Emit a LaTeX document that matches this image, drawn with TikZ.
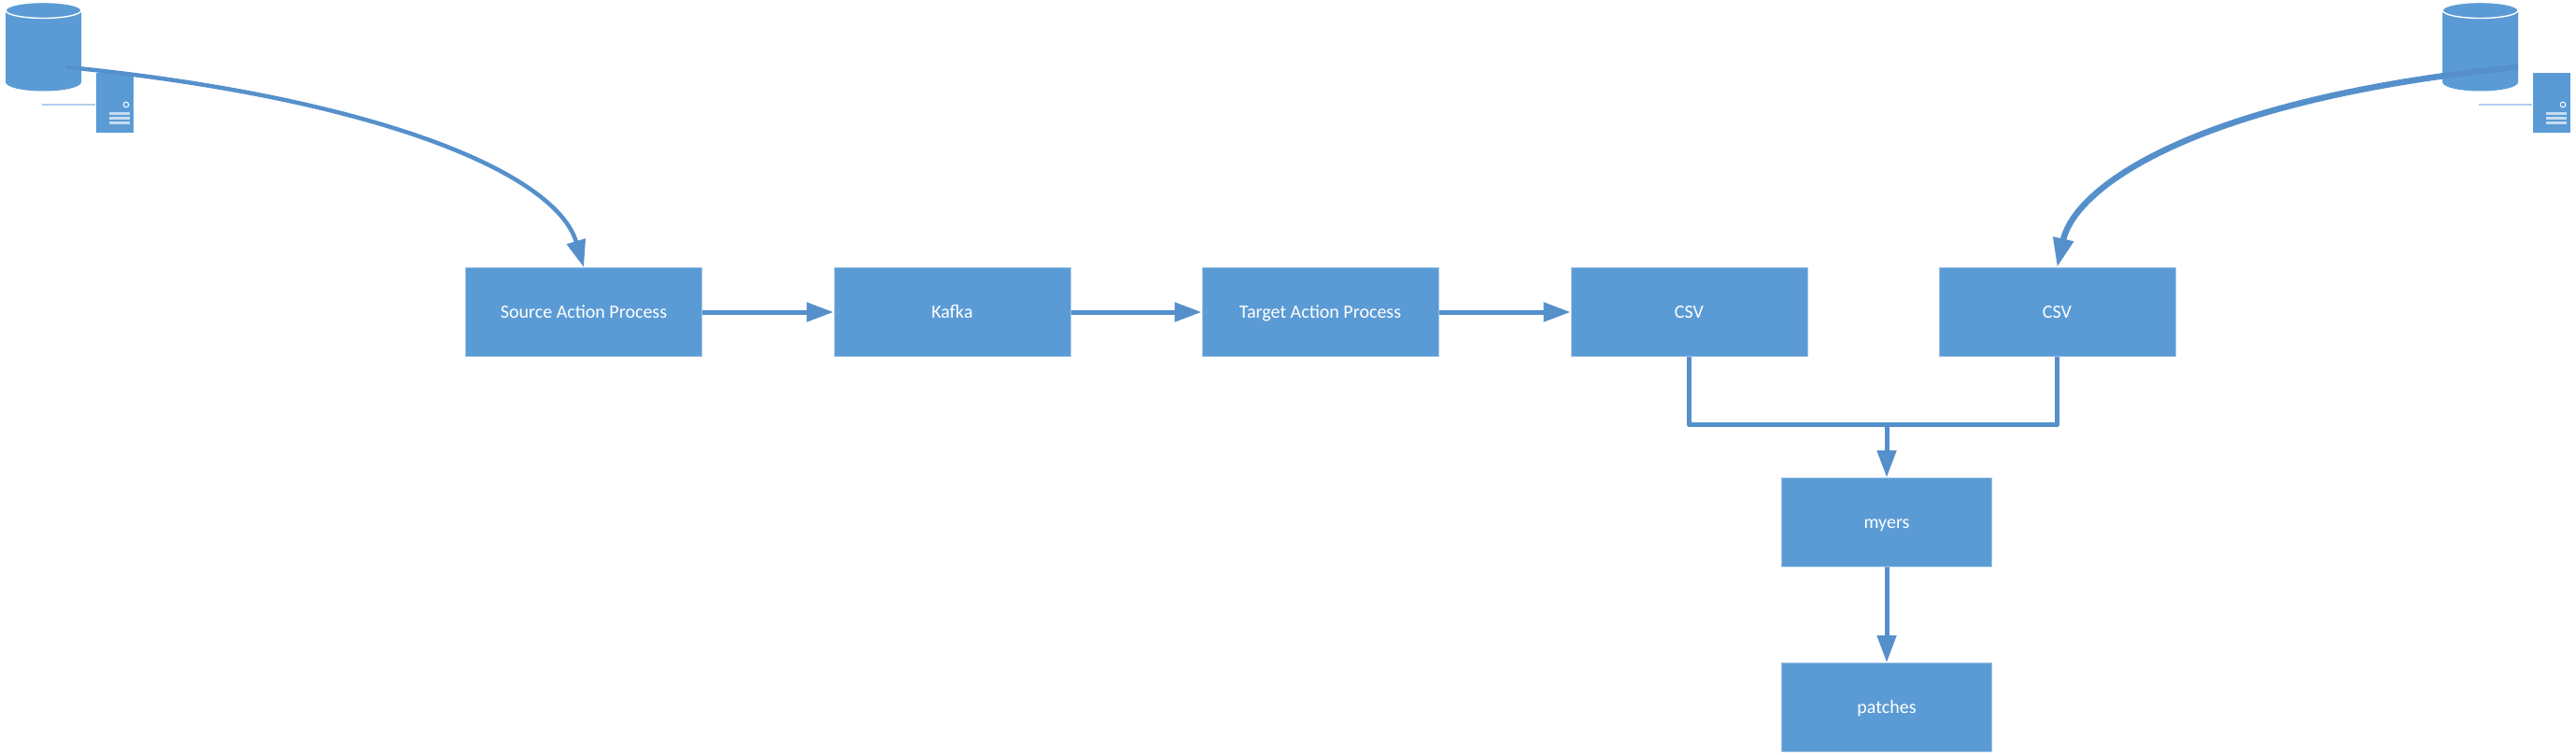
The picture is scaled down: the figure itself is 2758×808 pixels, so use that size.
\documentclass[tikz,border=0pt]{standalone}
\usepackage{fontspec}
\setmainfont{Carlito}
\usetikzlibrary{arrows.meta}
\definecolor{boxfill}{HTML}{5B9BD5}
\definecolor{boxedge}{HTML}{9DC3E6}
\definecolor{linkc}{HTML}{5590CB}
\tikzset{
  x=1pt,y=-1pt,
  flowbox/.style={rectangle,fill=boxfill,draw=boxedge,line width=1pt,inner sep=0pt,text=white,text height=12.5pt,text depth=0pt,font=\fontsize{20}{24}\selectfont},
  anchorbox/.style={rectangle,inner sep=0pt,draw=none},
  link/.style={draw=linkc,line width=5pt,-{Triangle[length=29pt,width=20pt]}},
  thinlink/.style={draw=linkc,line width=4.5pt,line cap=round,-{Triangle[length=29pt,width=20pt]}},
  thicklink/.style={draw=linkc,line width=6.5pt,line cap=round,-{Triangle[length=31pt,width=21pt]}},
  plain/.style={draw=linkc,line width=5pt},
  rim/.style={draw=white,line width=1.4pt,fill=boxfill},
  stripe/.style={draw=white,draw opacity=.65,line width=3pt},
}
\newcommand{\dbserver}[2]{%
  % #1 = x of cylinder's left edge, #2 = name prefix
  \node[anchorbox,minimum width=81pt,minimum height=95pt] (#2db) at (#1+40.5,49.5) {};
  \node[anchorbox,fill=boxfill,draw=white,line width=.6pt,minimum width=41pt,minimum height=65pt] (#2srv) at (#1+116.5,109.5) {};
  \coordinate (#2stub) at (#1+39,112);
  \fill[boxfill] (#1,11) -- (#1,88) arc[start angle=180,end angle=360,x radius=40.5,y radius=-9.5] -- (#1+81,11) arc[start angle=0,end angle=180,x radius=40.5,y radius=-9] -- cycle;
  \draw[rim] (#1+40.5,11) ellipse[x radius=40.5,y radius=8.5];
  \draw[draw=boxedge!80,line width=1.6pt] (#2stub) -- (#2srv.west |- #2stub);
  \draw[white,line width=1pt] (#1+129,112) circle[radius=2.8];
  \foreach \yy in {121,126,131}{\draw[stripe] (#1+111,\yy) -- (#1+133,\yy);}
}
\begin{document}
\begin{tikzpicture}
\useasboundingbox (0,0) rectangle (2758,808);
\dbserver{6}{a}
\dbserver{2615}{b}
\node[flowbox,minimum width=253pt,minimum height=95pt] (src) at (625,334) {Source Action Process};
\node[flowbox,minimum width=253pt,minimum height=95pt] (kafka) at (1019.5,334) {Kafka};
\node[flowbox,minimum width=253pt,minimum height=95pt] (tgt) at (1413.5,334) {Target Action Process};
\node[flowbox,minimum width=253pt,minimum height=95pt] (csva) at (1808.5,334) {CSV};
\node[flowbox,minimum width=253pt,minimum height=95pt] (csvb) at (2202.5,334) {CSV};
\node[flowbox,minimum width=225pt,minimum height=95pt] (myers) at (2020,559) {myers};
\node[flowbox,minimum width=225pt,minimum height=95pt] (patches) at (2020,757) {patches};
\coordinate (junction) at (2020,454.5);
\coordinate (atail) at (73,72);
\coordinate (btail) at (2693,72);
\path[thinlink] (atail) .. controls (403,105) and (595,185) .. (src.north);
\path[thicklink] (btail) .. controls (2356,106) and (2222,198) .. (csvb.north);
\path[link] (src) -- (kafka);
\path[link] (kafka) -- (tgt);
\path[link] (tgt) -- (csva);
\draw[plain,line join=round] (csva.south) |- (junction) -| (csvb.south);
\path[link] (junction) -- (myers.north);
\path[link] (myers.south) -- (patches.north);
\end{tikzpicture}
\end{document}
